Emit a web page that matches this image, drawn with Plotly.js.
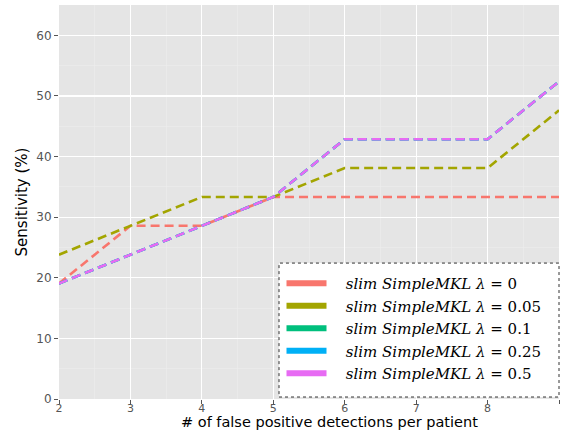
<!DOCTYPE html>
<html><head><meta charset="utf-8">
<script src="https://cdn.plot.ly/plotly-3.0.1.min.js"></script>
<style>body{margin:0;padding:0;background:#fff}#chart{width:561px;height:432px}</style>
</head><body><div id="chart"></div>
<script>
const fpPerPatient = [2, 3, 4, 5, 6, 7, 8, 9];
const seriesNames = ['0', '0.05', '0.1', '0.25', '0.5'];
const sens_l0    = [19.05, 28.57, 28.57, 33.33, 33.33, 33.33, 33.33, 33.33];
const sens_l005  = [23.81, 28.57, 33.33, 33.33, 38.10, 38.10, 38.10, 47.62];
const sens_l01   = [19.05, 23.81, 28.57, 33.33, 42.86, 42.86, 42.86, 52.38];
const sens_l025  = [19.05, 23.81, 28.57, 33.33, 42.86, 42.86, 42.86, 52.38];
const sens_l05   = [19.05, 23.81, 28.57, 33.33, 42.86, 42.86, 42.86, 52.38];
const seriesValues = [sens_l0, sens_l005, sens_l01, sens_l025, sens_l05];
const colors = ['#F8766D', '#A3A500', '#00BF7D', '#00B0F6', '#E76BF3'];
const xTitle = '# of false positive detections per patient';
const yTitle = 'Sensitivity (%)';

const traces = [];
seriesValues.forEach((vals, i) => {
  traces.push({
    x: fpPerPatient, y: vals, type: 'scatter', mode: 'lines',
    line: {color: colors[i], width: 2.6, dash: '9px,5px'},
    showlegend: false, hoverinfo: 'skip'
  });
});
seriesNames.forEach((nm, i) => {
  traces.push({
    x: [null], y: [null], type: 'scatter', mode: 'lines',
    line: {color: colors[i], width: 6},
    name: '\u00a0\u00a0\u00a0<i>slim SimpleMKL λ</i> = ' + nm,
    showlegend: true
  });
});

const layout = {
  width: 561, height: 432,
  margin: {l: 59, r: 2, t: 5, b: 33},
  paper_bgcolor: '#ffffff',
  plot_bgcolor: '#e5e5e5',
  font: {family: 'DejaVu Sans', color: '#555555', size: 12},
  xaxis: {
    range: [2, 9], dtick: 1, tick0: 2,
    showgrid: true, gridcolor: '#ffffff', gridwidth: 1.2,
    minor: {dtick: 0.5, showgrid: true, gridcolor: '#ececec', gridwidth: 0.6},
    zeroline: false, showline: false,
    ticks: 'outside', ticklen: 4, tickcolor: '#555555', tickwidth: 1,
    ticklabelstandoff: -5,
    tickfont: {size: 11, color: '#555555'}
  },
  yaxis: {
    range: [0, 65], dtick: 10, tick0: 0,
    showgrid: true, gridcolor: '#ffffff', gridwidth: 1.2,
    minor: {dtick: 5, showgrid: true, gridcolor: '#ececec', gridwidth: 0.6},
    zeroline: false, showline: false,
    ticks: 'outside', ticklen: 4, tickcolor: '#555555', tickwidth: 1,
    tickfont: {size: 12, color: '#555555'},
    title: {text: yTitle, font: {size: 15, color: '#000000'}, standoff: 5}
  },
  annotations: [{
    text: xTitle, xref: 'paper', yref: 'paper', x: 0.54, y: -0.085,
    xanchor: 'center', yanchor: 'bottom', showarrow: false,
    font: {size: 14.5, color: '#000000'}
  }],
  legend: {
    x: 0.445, y: 0.335, xanchor: 'left', yanchor: 'top',
    bgcolor: 'rgba(255,255,255,0)', borderwidth: 0,
    font: {family: 'DejaVu Serif', size: 15, color: '#000000'},
    itemwidth: 40, tracegroupgap: 0
  },
  shapes: [{
    type: 'rect', xref: 'paper', yref: 'paper',
    x0: 0.44, x1: 1.0, y0: 0.005, y1: 0.345,
    line: {color: '#333333', width: 1, dash: 'dot'},
    fillcolor: '#ffffff', layer: 'above'
  }]
};

Plotly.newPlot('chart', traces, layout, {displayModeBar: false, staticPlot: true});
</script></body></html>
